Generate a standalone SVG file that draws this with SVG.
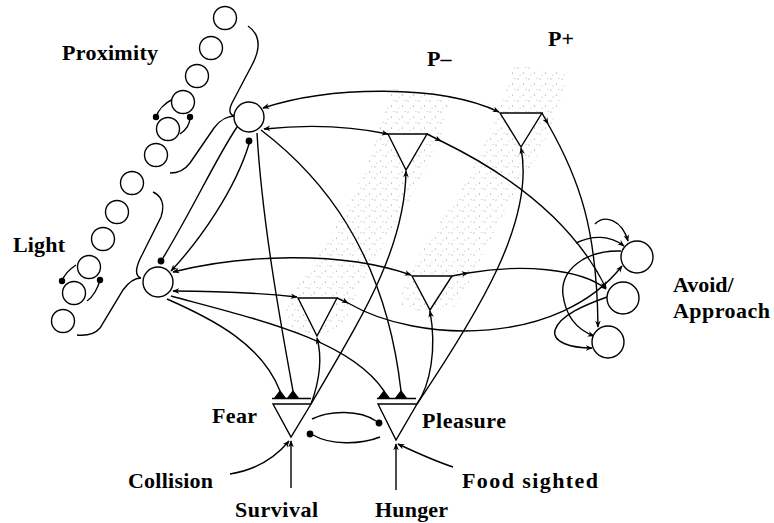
<svg xmlns="http://www.w3.org/2000/svg" width="774" height="523" viewBox="0 0 774 523">
<defs>
<style>
.ln{fill:none;stroke:#000;stroke-width:1.4}
.nd{fill:#fff;stroke:#000;stroke-width:1.4}
.lb{font-family:"Liberation Serif","Times New Roman",serif;font-weight:bold;font-size:22px;fill:#000}
.dot{fill:#000}
.tri{fill:#fff;stroke:#000;stroke-width:1.4}
.syn{fill:#000}
.stp{fill:url(#stip);stroke:none}
</style>
<marker id="arr" viewBox="0 0 10 10" refX="9" refY="5" markerWidth="7" markerHeight="7" orient="auto-start-reverse" markerUnits="userSpaceOnUse"><path d="M0,1 L10,5 L0,9 L3,5 z" fill="#000"/></marker>
<pattern id="stip" width="11" height="11" patternUnits="userSpaceOnUse"><circle cx="1" cy="2" r="0.6" fill="#888"/><circle cx="6.5" cy="7" r="0.6" fill="#888"/><circle cx="9" cy="1.5" r="0.5" fill="#aaa"/><circle cx="3" cy="9" r="0.5" fill="#aaa"/></pattern>
</defs>
<rect width="774" height="523" fill="#fff"/>

<g id="stipple">
<path class="stp" d="M393,88 L450,97 L440,140 L410,200 L380,250 L358,290 L345,322 L320,337 L292,332 L286,310 L300,280 L322,250 L345,210 L365,170 L378,130 Z"/>
<path class="stp" d="M513,64 L570,74 L555,120 L535,160 L510,200 L490,240 L465,290 L455,308 L420,312 L398,305 L410,270 L435,230 L470,175 L490,130 L505,95 Z"/>
</g>

<g id="labels">
<text class="lb" x="62" y="60" textLength="96">Proximity</text>
<text class="lb" x="13" y="252" textLength="52">Light</text>
<text class="lb" x="427" y="66">P–</text>
<text class="lb" x="548" y="46">P+</text>
<text class="lb" x="673" y="292">Avoid/</text>
<text class="lb" x="673" y="318" textLength="97">Approach</text>
<text class="lb" x="212" y="423" textLength="45">Fear</text>
<text class="lb" x="422" y="428" textLength="84">Pleasure</text>
<text class="lb" x="128" y="488" textLength="85">Collision</text>
<text class="lb" x="462" y="488" textLength="136">Food sighted</text>
<text class="lb" x="235" y="517" textLength="83">Survival</text>
<text class="lb" x="375" y="517" textLength="73">Hunger</text>
</g>

<g id="connectors">
<path class="ln" d="M248,26 C262,36 260,50 252,65 L232,103 C228,111 230,116 236,116 M236,116 C226,116 220,120 214,128 L190,163 C184,171 178,173 170,173"/>
<path class="ln" d="M153,192 C162,196 165,205 161,217 L142,255 C136,266 134,276 141,278 M141,278 C133,278 128,283 123,290 L100,328 C95,334 88,336 77,335"/>
<path class="ln" d="M173,99 C165,103 158,110 156,117"/>
<circle class="dot" cx="156" cy="117" r="3.2"/>
<path class="ln" d="M180,134 C186,130 190,124 190,117"/>
<circle class="dot" cx="190" cy="117" r="3.2"/>
<path class="ln" d="M76,265 C70,269 64,275 62,281"/>
<circle class="dot" cx="62" cy="281" r="3.2"/>
<path class="ln" d="M87,301 C93,297 98,288 100,280"/>
<circle class="dot" cx="100" cy="280" r="3.2"/>
<path class="ln" d="M237,127 C215,160 195,205 163,258"/>
<circle class="dot" cx="161" cy="261" r="3.4"/>
<path class="ln" d="M249,144 C235,190 200,240 171,271" marker-end="url(#arr)"/>
<circle class="dot" cx="249" cy="141" r="3.4"/>
<path class="ln" d="M263,108 C330,86 440,84 499,112" marker-start="url(#arr)" marker-end="url(#arr)"/>
<path class="ln" d="M264,129 C310,124 350,126 388,134" marker-start="url(#arr)" marker-end="url(#arr)"/>
<path class="ln" d="M173,291 C220,291 260,293 297,297" marker-start="url(#arr)" marker-end="url(#arr)"/>
<path class="ln" d="M173,272 C240,255 340,250 411,275" marker-start="url(#arr)" marker-end="url(#arr)"/>
<path class="ln" d="M427,134 L441,141 C480,160 565,205 606,288" marker-mid="url(#arr)" marker-end="url(#arr)"/>
<path class="ln" d="M542,113 L548,124 C580,180 597,230 598,327" marker-mid="url(#arr)" marker-end="url(#arr)"/>
<path class="ln" d="M337,298 L348,303 C420,345 560,345 622,266" marker-mid="url(#arr)" marker-end="url(#arr)"/>
<path class="ln" d="M452,276 L468,273 C520,264 580,268 606,289" marker-mid="url(#arr)" marker-end="url(#arr)"/>
<path class="ln" d="M167,299 C215,320 262,345 280,391"/>
<path class="ln" d="M171,296 C260,320 350,340 384,391"/>
<path class="ln" d="M257,133 C262,220 280,320 293,391"/>
<path class="ln" d="M261,130 C320,175 385,250 401,391"/>
<path class="ln" d="M311,404 C318,385 323,360 317,338" marker-end="url(#arr)"/>
<path class="ln" d="M311,404 C360,320 405,250 406,171" marker-end="url(#arr)"/>
<path class="ln" d="M417,404 C430,385 437,350 430,311" marker-end="url(#arr)"/>
<path class="ln" d="M417,404 C480,310 535,220 521,148" marker-end="url(#arr)"/>
<path class="ln" d="M312,419 C330,410 360,410 376,421"/>
<circle class="dot" cx="379" cy="423" r="3.4"/>
<path class="ln" d="M380,437 C360,445 330,445 313,435"/>
<circle class="dot" cx="310" cy="434" r="3.4"/>
<path class="ln" d="M230,474 C255,470 275,458 289,441" marker-end="url(#arr)"/>
<path class="ln" d="M291,488 L291,441" marker-end="url(#arr)"/>
<path class="ln" d="M396,490 L396,444" marker-end="url(#arr)"/>
<path class="ln" d="M453,467 C432,460 415,452 398,444" marker-end="url(#arr)"/>
<path class="ln" d="M595,224 C605,214 622,220 628,241" marker-end="url(#arr)"/>
<path class="ln" d="M576,243 C592,235 610,235 624,246" marker-end="url(#arr)"/>
<path class="ln" d="M621,251 C585,250 560,270 563,295 C566,318 578,330 594,336" marker-end="url(#arr)"/>
<path class="ln" d="M607,297 C585,305 560,315 555,330 C552,342 570,348 592,348" marker-end="url(#arr)"/>
</g>

<g id="sensors-proximity">
<circle class="nd" cx="225" cy="18" r="11.5"/>
<circle class="nd" cx="211" cy="48" r="11.5"/>
<circle class="nd" cx="197" cy="76" r="11.5"/>
<circle class="nd" cx="183" cy="102" r="11.5"/>
<circle class="nd" cx="168" cy="129" r="11.5"/>
<circle class="nd" cx="156" cy="155" r="11.5"/>
</g>
<g id="sensors-light">
<circle class="nd" cx="132" cy="183" r="11.5"/>
<circle class="nd" cx="117" cy="212" r="11.5"/>
<circle class="nd" cx="103" cy="239" r="11.5"/>
<circle class="nd" cx="89" cy="267" r="11.5"/>
<circle class="nd" cx="74" cy="293" r="11.5"/>
<circle class="nd" cx="63" cy="321" r="11.5"/>
</g>
<g id="node-proximity"><circle class="nd" cx="249" cy="117" r="15"/></g>
<g id="node-light"><circle class="nd" cx="158" cy="282" r="15"/></g>
<g id="motor-1"><circle class="nd" cx="637" cy="257" r="16"/></g>
<g id="motor-2"><circle class="nd" cx="623" cy="298" r="16"/></g>
<g id="motor-3"><circle class="nd" cx="608" cy="342" r="16"/></g>

<g id="t1"><path class="tri" d="M388,134 L427,134 L406,170 Z"/></g>
<g id="t2"><path class="tri" d="M500,113 L542,113 L521,147 Z"/></g>
<g id="t3"><path class="tri" d="M298,298 L337,298 L317,336 Z"/></g>
<g id="t4"><path class="tri" d="M412,276 L452,276 L430,310 Z"/></g>

<g id="fear">
<path class="tri" d="M273,404 L311,404 L291,437 Z"/>
<line class="ln" x1="272" y1="398.5" x2="311" y2="398.5"/>
<path class="syn" d="M274,398 L280,390 L286,398 Z M287,398 L293,390 L299,398 Z"/>
</g>
<g id="pleasure">
<path class="tri" d="M378,404 L417,404 L396,440 Z"/>
<line class="ln" x1="377" y1="398.5" x2="416" y2="398.5"/>
<path class="syn" d="M378,398 L384,390 L390,398 Z M395,398 L401,390 L407,398 Z"/>
</g>
</svg>
